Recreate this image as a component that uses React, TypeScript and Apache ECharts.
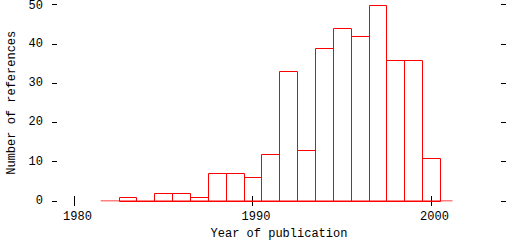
import React, { useEffect, useRef } from "react";
import * as echarts from "echarts";

const years = [1983, 1984, 1985, 1986, 1987, 1988, 1989, 1990, 1991, 1992, 1993, 1994, 1995, 1996, 1997, 1998, 1999, 2000];
const counts = [1, 0, 2, 2, 1, 7, 7, 6, 12, 33, 13, 39, 44, 42, 50, 36, 36, 11];
const xTicks = [1980, 1990, 2000];
const yTicks = [0, 10, 20, 30, 40, 50];
const baselineRange = [1981.5, 2001.2];
const xRange = [1979.05, 2003.92];

const FONT = "Liberation Mono";

export default function App() {
  const ref = useRef<HTMLDivElement>(null);
  useEffect(() => {
    document.body.style.margin = "0";
    const chart = echarts.init(ref.current!, null, { renderer: "svg" });
    const common = {
      type: "value",
      min: xRange[0],
      max: xRange[1],
      axisLine: { show: false },
      splitLine: { show: false },
      axisTick: { show: true, inside: false, length: 5, customValues: xTicks, lineStyle: { color: "#000", width: 1 } },
    };
    const yMax = yTicks[yTicks.length - 1];
    chart.setOption({
      animation: false,
      backgroundColor: "#fff",
      grid: { left: 57, right: 11, top: 4.5, bottom: 39, containLabel: false, outerBoundsMode: "none" },
      xAxis: [
        {
          ...common,
          position: "bottom",
          name: "Year of publication",
          nameLocation: "middle",
          nameGap: 26,
          nameTextStyle: { fontFamily: FONT, fontSize: 12, color: "#000" },
          axisLabel: {
            show: true,
            customValues: xTicks,
            formatter: (v: number) => String(v),
            margin: 10,
            fontFamily: FONT,
            fontSize: 12,
            color: "#000",
            padding: [0, 0, 0, 7],
          },
        },
        {
          ...common,
          position: "top",
          axisLabel: { show: false },
        },
      ],
      yAxis: [
        {
          type: "value",
          min: 0,
          max: yMax,
          interval: 10,
          position: "left",
          axisLine: { show: false },
          splitLine: { show: false },
          axisTick: { show: true, inside: false, length: 5, lineStyle: { color: "#000" } },
          axisLabel: {
            margin: 14,
            fontFamily: FONT,
            fontSize: 12,
            lineHeight: 9,
            color: "#000",
            customValues: yTicks,
            formatter: (v: number) => (v === yMax ? `{t|${v}}` : String(v)),
            rich: {
              t: { fontFamily: FONT, fontSize: 12, lineHeight: 9, color: "#000", padding: [3, 0, 0, 0] },
            },
          },
          name: "Number of references",
          nameLocation: "middle",
          nameGap: 39,
          nameTextStyle: { fontFamily: FONT, fontSize: 12, color: "#000" },
        },
        {
          type: "value",
          min: 0,
          max: yMax,
          interval: 10,
          position: "right",
          axisLine: { show: false },
          splitLine: { show: false },
          axisTick: { show: true, inside: false, length: 5, lineStyle: { color: "#000" } },
          axisLabel: { show: false },
        },
      ],
      series: [
        {
          type: "line",
          data: [[baselineRange[0], 0], [baselineRange[1], 0]],
          symbol: "none",
          lineStyle: { color: "#ff0000", width: 1 },
          silent: true,
        },
        {
          type: "custom",
          data: years.map((y, i) => [y, counts[i]]),
          renderItem: (params: any, api: any) => {
            const x = api.value(0);
            const v = api.value(1);
            const p0 = api.coord([x - 0.5, v]);
            const p1 = api.coord([x + 0.5, 0]);
            const x0 = Math.round(p0[0]) + 0.5;
            const x1 = Math.round(p1[0]) + 0.5;
            const y0 = Math.round(p0[1]) + 0.5;
            const y1 = Math.round(p1[1]) + 0.5;
            return {
              type: "rect",
              shape: { x: x0, y: y0, width: x1 - x0, height: y1 - y0 },
              style: { fill: "none", stroke: "#ff0000", lineWidth: 1 },
            };
          },
        },
      ],
    });
    return () => chart.dispose();
  }, []);
  return <div ref={ref} style={{ width: 512, height: 240 }} />;
}
